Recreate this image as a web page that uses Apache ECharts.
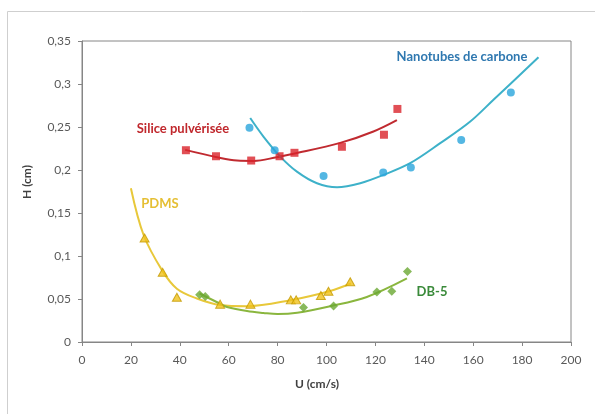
<!DOCTYPE html>
<html>
<head>
<meta charset="utf-8">
<script src="https://cdn.jsdelivr.net/npm/echarts@6/dist/echarts.min.js"></script>
<style>
html,body{margin:0;padding:0;background:#fff;}
#c{width:595px;height:414px;}
</style>
</head>
<body>
<div id="c"></div>
<script>
// Measured points
const siliceU = [42.5, 54.8, 69.2, 80.8, 86.9, 106.3, 123.5, 129.0];
const siliceH = [0.223, 0.216, 0.211, 0.216, 0.220, 0.227, 0.241, 0.271];
const nanoU = [68.5, 78.8, 98.8, 123.2, 134.5, 155.1, 175.4];
const nanoH = [0.249, 0.223, 0.193, 0.197, 0.203, 0.235, 0.290];
const pdmsU = [25.6, 33.0, 38.8, 56.5, 68.9, 85.4, 87.6, 97.7, 100.8, 109.7];
const pdmsH = [0.121, 0.081, 0.052, 0.044, 0.044, 0.049, 0.049, 0.054, 0.059, 0.070];
const db5U = [48.1, 50.4, 90.6, 102.9, 120.6, 126.7, 133.1];
const db5H = [0.055, 0.053, 0.040, 0.042, 0.058, 0.059, 0.082];

// Trend curves
const siliceTrendU = [42.2, 55.2, 63.4, 70.2, 79.7, 86.5, 105.6, 119.2, 128.8];
const siliceTrendH = [0.2234, 0.2149, 0.2110, 0.2106, 0.2149, 0.2188, 0.2315, 0.2448, 0.2580];
const nanoTrendU = [68.8, 74.2, 81.1, 87.9, 96.1, 104.3, 113.8, 123.3, 134.2, 146.5, 158.8, 168.3, 186.7];
const nanoTrendH = [0.2604, 0.2389, 0.2156, 0.1981, 0.1846, 0.1800, 0.1846, 0.1943, 0.2079, 0.2312, 0.2564, 0.2817, 0.331];
const pdmsTrendU = [20.0, 25.2, 32.7, 38.8, 47.0, 56.5, 67.5, 85.2, 101.5, 110.0];
const pdmsTrendH = [0.1788, 0.1244, 0.0836, 0.062, 0.0506, 0.043, 0.0416, 0.0486, 0.0594, 0.068];
const db5TrendU = [48.1, 56.5, 59.3, 67.5, 74.2, 80.0, 88.0, 101.5, 116.5, 132.9];
const db5TrendH = [0.0564, 0.0445, 0.0408, 0.036, 0.0338, 0.0325, 0.034, 0.0416, 0.0524, 0.0739];

// Axis ticks
const xTicks = [0, 20, 40, 60, 80, 100, 120, 140, 160, 180, 200];
const yTicks = ['0', '0,05', '0,1', '0,15', '0,2', '0,25', '0,3', '0,35'];

const zip = (a, b) => a.map((v, i) => [v, b[i]]);
const FONT = 'Lato, "Open Sans", sans-serif';
const AX = '#868686';

const chart = echarts.init(document.getElementById('c'), null, {renderer: 'canvas'});
chart.setOption({
  animation: false,
  backgroundColor: '#fff',
  grid: {left: 82, top: 41, width: 489, height: 301, show: true, borderColor: AX, borderWidth: 1, backgroundColor: 'transparent'},
  xAxis: {
    type: 'value', min: xTicks[0], max: xTicks[xTicks.length - 1], interval: 20,
    axisLine: {show: true, onZero: false, lineStyle: {color: AX}},
    axisTick: {show: true, length: 4, lineStyle: {color: AX}},
    splitLine: {show: false},
    axisLabel: {margin: 12, color: '#595959', fontSize: 12, fontFamily: FONT}
  },
  yAxis: {
    type: 'value', min: 0, max: 0.35, interval: 0.05,
    axisLine: {show: true, lineStyle: {color: AX}},
    axisTick: {show: true, length: 4, lineStyle: {color: AX}},
    splitLine: {show: false},
    axisLabel: {
      margin: 11, color: '#595959', fontSize: 12, fontFamily: FONT,
      formatter: v => yTicks[Math.round(v / 0.05)]
    }
  },
  series: [
    {type: 'line', data: zip(siliceTrendU, siliceTrendH), smooth: 0.35, showSymbol: false, lineStyle: {color: '#c02a30', width: 2}, z: 2},
    {type: 'line', data: zip(nanoTrendU, nanoTrendH), smooth: 0.35, showSymbol: false, lineStyle: {color: '#3db1c9', width: 2}, z: 2},
    {type: 'line', data: zip(pdmsTrendU, pdmsTrendH), smooth: 0.35, showSymbol: false, lineStyle: {color: '#e8c83a', width: 2}, z: 2},
    {type: 'line', data: zip(db5TrendU, db5TrendH), smooth: 0.35, showSymbol: false, lineStyle: {color: '#8ab63e', width: 2}, z: 2},
    {type: 'scatter', data: zip(siliceU, siliceH), symbol: 'rect', symbolSize: 8, itemStyle: {color: '#da232b'}, z: 3},
    {type: 'scatter', data: zip(nanoU, nanoH), symbol: 'circle', symbolSize: 8, itemStyle: {color: '#29a5dc'}, z: 3},
    {type: 'scatter', data: zip(pdmsU, pdmsH), symbol: 'triangle', symbolSize: [9, 8], itemStyle: {color: '#f0c21c', borderColor: '#c49a00', borderWidth: 1}, z: 3},
    {type: 'scatter', data: zip(db5U, db5H), symbol: 'diamond', symbolSize: 9, itemStyle: {color: '#6aa832'}, z: 3}
  ],
  graphic: [
    {type: 'rect', silent: true, shape: {x: 7.5, y: 11.5, width: 600, height: 420}, style: {fill: 'none', stroke: '#cfcfcf', lineWidth: 1}, z: -1},
    {type: 'text', x: 27, y: 182, rotation: Math.PI / 2, style: {text: 'H (cm)', font: 'bold 12px ' + FONT, fill: '#404040', textAlign: 'center', textVerticalAlign: 'middle'}},
    {type: 'text', x: 317, y: 384, style: {text: 'U (cm/s)', font: 'bold 12px ' + FONT, fill: '#404040', textAlign: 'center', textVerticalAlign: 'middle'}},
    {type: 'text', x: 462, y: 57, style: {text: 'Nanotubes de carbone', font: 'bold 13px ' + FONT, fill: '#2f78b0', textAlign: 'center', textVerticalAlign: 'middle'}},
    {type: 'text', x: 183, y: 129, style: {text: 'Silice pulvérisée', font: 'bold 13px ' + FONT, fill: '#c0282d', textAlign: 'center', textVerticalAlign: 'middle'}},
    {type: 'text', x: 160, y: 204, style: {text: 'PDMS', font: 'bold 13px ' + FONT, fill: '#e5bf34', textAlign: 'center', textVerticalAlign: 'middle'}},
    {type: 'text', x: 432, y: 292, style: {text: 'DB-5', font: 'bold 13px ' + FONT, fill: '#3a8a3a', textAlign: 'center', textVerticalAlign: 'middle'}}
  ]
});
</script>
</body>
</html>
